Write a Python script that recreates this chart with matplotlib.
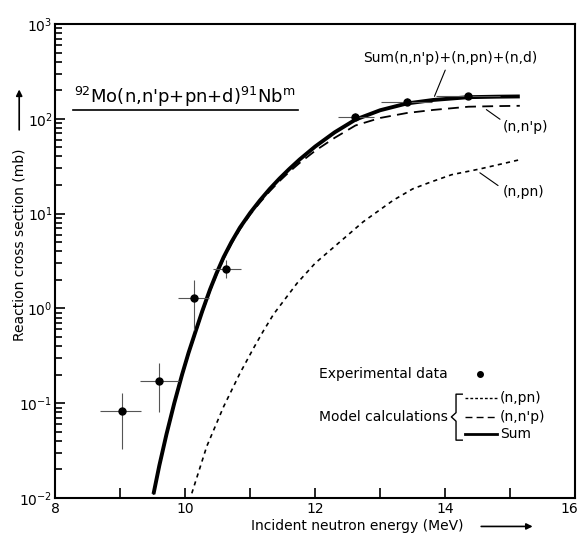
import numpy as np
import matplotlib
matplotlib.use('Agg')
import matplotlib.pyplot as plt
import matplotlib.transforms as mtransforms
from matplotlib.patches import FancyArrowPatch
from matplotlib.ticker import LogLocator, FixedLocator, NullFormatter

# experimental data (MeV, mb) with asymmetric errors
exp_e = [9.03, 9.60, 10.13, 10.63, 12.62, 13.41, 14.36]
exp_sig = [0.082, 0.17, 1.30, 2.58, 104, 152, 172]
exp_e_lo = [8.69, 9.31, 9.88, 10.42, 12.35, 13.02, 13.86]
exp_e_hi = [9.32, 9.91, 10.37, 10.85, 12.90, 13.80, 14.85]
exp_sig_lo = [0.033, 0.081, 0.59, 2.1, 95, 142, 162]
exp_sig_hi = [0.127, 0.264, 2.0, 3.2, 114, 164, 186]

# model calculations
sum_e = [9.51, 9.60, 9.71, 9.83, 9.95, 10.05, 10.15, 10.26, 10.38, 10.48, 10.59, 10.71, 10.84,
         11.0, 11.15, 11.30, 11.45, 11.6, 11.76, 12.0, 12.3, 12.62, 13.0, 13.41, 13.82, 14.36, 14.8, 15.15]
sum_sig = [0.011, 0.022, 0.047, 0.10, 0.20, 0.34, 0.55, 0.93, 1.58, 2.34, 3.47, 5.0, 7.1,
           10.2, 13.8, 18.2, 23.4, 29.5, 37.2, 51, 72, 98, 123, 145, 158, 169, 171, 172]

nnp_e = sum_e
nnp_sig = [0.0108, 0.0215, 0.046, 0.098, 0.195, 0.33, 0.53, 0.90, 1.52, 2.25, 3.33, 4.8, 6.8,
           9.8, 13.1, 17.2, 22.0, 27.5, 34.2, 46, 63, 85, 102, 115, 124, 134, 136, 137]

npn_e = [10.10, 10.33, 10.59, 10.84, 11.05, 11.20, 11.36, 11.72, 12.0, 12.23, 12.74, 13.20, 13.5, 13.77, 14.1, 14.53, 15.18]
npn_sig = [0.0112, 0.035, 0.092, 0.206, 0.38, 0.575, 0.87, 1.84, 3.0, 4.1, 8.2, 13.8, 18.2, 21.4, 25.7, 29.5, 37.4]

fig = plt.figure(figsize=(5.82, 5.35), dpi=100)
ax = fig.add_axes([0.0952, 0.0692, 0.8928, 0.886])

ax.plot(sum_e, sum_sig, 'k-', lw=2.8, solid_capstyle='butt', solid_joinstyle='round')
ax.plot(nnp_e, nnp_sig, 'k-', lw=1.3, dashes=(6, 3.5))
ax.plot(npn_e, npn_sig, 'k-', lw=1.2, dashes=(2.5, 2.5))

xerr = [np.subtract(exp_e, exp_e_lo), np.subtract(exp_e_hi, exp_e)]
yerr = [np.subtract(exp_sig, exp_sig_lo), np.subtract(exp_sig_hi, exp_sig)]
ax.errorbar(exp_e, exp_sig, xerr=xerr, yerr=yerr, fmt='o', color='k', ms=5,
            ecolor='#555555', elinewidth=0.8, capsize=0)

ax.set_yscale('log')
ax.set_xlim(8, 16)
ax.set_ylim(1e-2, 1e3)

ax.xaxis.set_major_locator(FixedLocator([8, 10, 12, 14, 16]))
ax.xaxis.set_minor_locator(FixedLocator([9, 11, 13, 15]))
ax.yaxis.set_major_locator(LogLocator(base=10))
ax.yaxis.set_minor_locator(LogLocator(base=10, subs=np.arange(2, 10)))
ax.yaxis.set_minor_formatter(NullFormatter())
ax.tick_params(which='both', direction='in', top=False, right=False, labelsize=10, width=1.2)
ax.tick_params(which='major', length=7)
ax.tick_params(which='minor', length=5)
ax.tick_params(axis='x', which='minor', length=7)
ax.tick_params(axis='x', pad=3)
ax.tick_params(axis='y', pad=2)
for s in ax.spines.values():
    s.set_linewidth(1.5)

# nudge the last x tick label so it stays inside the figure
fig.canvas.draw()
last = ax.get_xticklabels()[-1]
last.set_transform(last.get_transform() + mtransforms.ScaledTranslation(-4 / 72, 0, fig.dpi_scale_trans))

# title inside axes with underline
ax.text(0.035, 0.845, r"$^{92}$Mo(n,n'p+pn+d)$^{91}$Nb$^{\rm m}$", transform=ax.transAxes,
        fontsize=13, ha='left', va='center')
ax.plot([0.034, 0.467], [0.818, 0.818], 'k-', lw=1.2, transform=ax.transAxes)

# curve annotations
lab_kw = dict(fontsize=10, arrowprops=dict(arrowstyle='-', lw=0.8, color='k'))
ax.annotate("Sum(n,n'p)+(n,pn)+(n,d)", xy=(13.82, 162), xytext=(14.08, 440),
            ha='center', va='center', **lab_kw)
ax.annotate('', xy=(14.60, 130), xytext=(14.88, 95), **lab_kw)
ax.text(14.88, 82, "(n,n'p)", fontsize=10, ha='left', va='center')
ax.annotate('', xy=(14.50, 28), xytext=(14.85, 19), **lab_kw)
ax.text(14.88, 16.9, '(n,pn)', fontsize=10, ha='left', va='center')

# legend drawn by hand
tr = ax.transAxes
ax.text(0.507, 0.262, 'Experimental data', transform=tr, fontsize=10, va='center')
ax.plot([0.817], [0.262], 'ko', ms=4, transform=tr)
ax.text(0.507, 0.171, 'Model calculations', transform=tr, fontsize=10, va='center')
ax.plot([0.783, 0.771, 0.771, 0.762, 0.771, 0.771, 0.783],
        [0.219, 0.219, 0.180, 0.171, 0.162, 0.122, 0.122], 'k-', lw=1.0, transform=tr)
ax.plot([0.788, 0.850], [0.211, 0.211], 'k-', lw=1.0, dashes=(2, 1.5), transform=tr)
ax.plot([0.788, 0.850], [0.171, 0.171], 'k-', lw=1.0, dashes=(5, 3), transform=tr)
ax.plot([0.788, 0.850], [0.135, 0.135], 'k-', lw=2.0, transform=tr)
ax.text(0.856, 0.211, '(n,pn)', transform=tr, fontsize=10, va='center')
ax.text(0.856, 0.171, "(n,n'p)", transform=tr, fontsize=10, va='center')
ax.text(0.856, 0.135, 'Sum', transform=tr, fontsize=10, va='center')

# axis labels with arrows
fig.text(0.033, 0.542, 'Reaction cross section (mb)', rotation=90, fontsize=10,
         ha='center', va='center')
fig.add_artist(FancyArrowPatch((0.033, 0.752), (0.033, 0.838), transform=fig.transFigure,
                               arrowstyle='-|>', mutation_scale=9, lw=1.2, color='k'))
fig.text(0.613, 0.016, 'Incident neutron energy (MeV)', fontsize=10, ha='center', va='center')
fig.add_artist(FancyArrowPatch((0.822, 0.016), (0.92, 0.016), transform=fig.transFigure,
                               arrowstyle='-|>', mutation_scale=9, lw=1.2, color='k'))

fig.savefig('out.png', dpi=100)
